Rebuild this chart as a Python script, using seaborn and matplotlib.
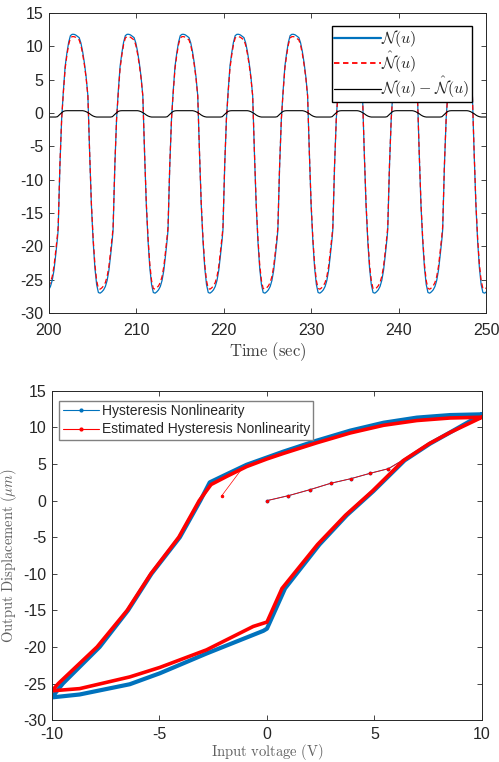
import numpy as np
import pandas as pd
import matplotlib
matplotlib.use("Agg")
import matplotlib.pyplot as plt
from matplotlib.lines import Line2D
import seaborn as sns

# ---- data: one period of the time response ----
# phase (s) after each rising zero crossing of the input
phase = [0.0, 0.2, 0.4, 0.6, 0.8, 1.0, 1.2, 1.4, 1.6, 1.8, 2.0, 2.2, 2.4, 2.6, 2.8, 3.0,
         3.2, 3.4, 3.6, 3.8, 4.0, 4.2, 4.4, 4.6, 4.8, 5.0, 5.2, 5.4, 5.6, 5.8, 6.0, 6.2]
n_true = [-17.5, -7.9, -0.8, 3.4, 7.0, 9.0, 10.6, 11.6, 11.8, 11.8, 11.7, 11.5, 11.3, 10.5,
          9.2, 7.5, 5.4, 2.6, -6.0, -13.8, -19.2, -23.2, -25.7, -26.9, -27.0, -26.8, -26.5,
          -26.0, -25.1, -23.6, -21.3, -18.8]
n_est = [-17.05, -7.7, -0.85, 3.15, 6.67, 8.65, 10.25, 11.25, 11.45, 11.45, 11.35, 11.15,
         10.95, 10.15, 8.85, 7.2, 5.2, 2.55, -5.9, -13.5, -18.75, -22.65, -25.1, -26.3,
         -26.4, -26.2, -25.9, -25.4, -24.5, -23.0, -20.7, -18.25]
first_rise = 201.06   # s
period = 6.283        # s
n_cycles = 9

# ---- data: hysteresis loop (bottom panel) ----
loop_u = [10, 8.52, 6.97, 5.42, 3.87, 2.31, 0.76, 0, -0.95, -1.88, -2.66, -3.1, -4.05, -5.37,
          -6.46, -7.78, -9.49, -10, -8.71, -6.38, -4.98, -2.81, -0.17, 0, 0.84, 2.44, 3.71,
          4.95, 6.4, 7.59, 8.5, 10]
loop_y = [11.8, 11.7, 11.35, 10.65, 9.57, 8.2, 6.7, 5.9, 4.9, 3.6, 2.5, 0, -5, -10, -15,
          -20, -25, -26.9, -26.5, -25.1, -23.6, -20.9, -17.8, -17.5, -12, -6, -2, 1.3, 5.5,
          7.8, 9.3, 11.8]
est_loop_u = [10, 8.52, 6.97, 5.42, 3.87, 2.31, 0.76, 0, -0.95, -1.88, -2.6, -3.15, -4.1,
              -5.4, -6.5, -7.9, -9.7, -10, -8.71, -6.38, -4.98, -2.81, -0.64, 0, 0.7, 2.35,
              3.65, 4.9, 6.35, 7.55, 8.5, 10]
est_loop_y = [11.4, 11.3, 10.95, 10.3, 9.25, 7.9, 6.45, 5.7, 4.65, 3.3, 2.2, 0, -5, -10,
              -15, -20, -25, -26.0, -25.7, -24.1, -22.8, -20.4, -17.2, -16.6, -12, -6, -2,
              1.3, 5.5, 7.8, 9.3, 11.4]
# initial branch from the origin
init_u = [0, 1, 2, 2.96, 3.9, 4.8, 5.65, 6.27]
init_y = [0, 0.68, 1.5, 2.37, 3.0, 3.74, 4.37, 5.46]
# start of the estimate
est_start_u = [-2.1, -1.18]
est_start_y = [0.68, 4.3]

blue = "#0072BD"
red = "#FF0000"

sns.set_theme(style="white")
plt.rcParams['font.family'] = ['Liberation Sans', 'DejaVu Sans']
plt.rcParams['mathtext.fontset'] = 'cm'
plt.rcParams['axes.unicode_minus'] = False

t = np.concatenate([first_rise + k * period + np.array(phase) for k in range(-1, n_cycles - 1)])
df = pd.DataFrame({
    "t": t,
    "n": np.tile(n_true, n_cycles),
    "nh": np.tile(n_est, n_cycles),
})
df["err"] = df["n"] - df["nh"]

fig = plt.figure(figsize=(4.99, 7.62), dpi=100)
ax1 = fig.add_axes([0.098, 0.589, 0.876, 0.394])
ax2 = fig.add_axes([0.104, 0.055, 0.862, 0.432])

#%% top panel
sns.lineplot(data=df, x="t", y="n", sort=False, estimator=None, color=blue, lw=0.9, ax=ax1)
sns.lineplot(data=df, x="t", y="nh", sort=False, estimator=None, color=red, lw=0.9,
             dashes=False, ax=ax1)
ax1.lines[-1].set_linestyle((0, (4, 2.5)))
sns.lineplot(data=df, x="t", y="err", sort=False, estimator=None, color="black", lw=0.8, ax=ax1)

ax1.set_xlim(200, 250)
ax1.set_ylim(-30, 15)
ax1.set_xticks(np.arange(200, 251, 10))
ax1.set_yticks(np.arange(-30, 16, 5))
ax1.set_xlabel(r'$\mathrm{Time\ (sec)}$', fontsize=12, color="#404040", labelpad=2)
ax1.set_ylabel("")

h_top = [Line2D([], [], color=blue, lw=1.6),
         Line2D([], [], color=red, lw=1.3, ls=(0, (3, 2))),
         Line2D([], [], color="black", lw=0.9)]
ax1.legend(h_top, [r'$\mathcal{N}(u)$', r'$\hat{\mathcal{N}}(u)$',
                   r'$\mathcal{N}(u)-\hat{\mathcal{N}}(u)$'],
           loc="upper right", bbox_to_anchor=(0.967, 0.955), fontsize=11.5, fancybox=False,
           edgecolor="black", framealpha=1, handlelength=2.9, handletextpad=0.05,
           borderpad=0.12, labelspacing=0.0, borderaxespad=0)

#%% bottom panel
sns.lineplot(x=loop_u, y=loop_y, sort=False, estimator=None, color=blue, lw=3.0, ax=ax2)
sns.lineplot(x=init_u, y=init_y, sort=False, estimator=None, color=blue, lw=0.7,
             marker=".", ms=4, mec=blue, ax=ax2)
sns.lineplot(x=est_loop_u, y=est_loop_y, sort=False, estimator=None, color=red, lw=2.6, ax=ax2)
sns.lineplot(x=init_u, y=init_y, sort=False, estimator=None, color=red, lw=0.6,
             marker=".", ms=3.5, mec=red, ax=ax2)
sns.lineplot(x=est_start_u, y=est_start_y, sort=False, estimator=None, color=red, lw=0.5,
             marker=".", ms=3.5, mec=red, markevery=[0], ax=ax2)

ax2.set_xlim(-10, 10)
ax2.set_ylim(-30, 15)
ax2.set_xticks(np.arange(-10, 11, 5))
ax2.set_yticks(np.arange(-30, 16, 5))
ax2.set_xlabel(r'$\mathrm{Input\ voltage\ (V)}$', fontsize=10.5, color="#606060", labelpad=0)
ax2.set_ylabel(r'$\mathrm{Output\ Displacement\ }(\mu m)$', fontsize=10.5, color="#606060",
               labelpad=3)

h_bot = [Line2D([], [], color=blue, lw=0.8, marker=".", ms=4),
         Line2D([], [], color=red, lw=0.8, marker=".", ms=4)]
ax2.legend(h_bot, ["Hysteresis Nonlinearity", "Estimated Hysteresis Nonlinearity"],
           loc="upper left", bbox_to_anchor=(0.017, 0.97), fontsize=10, fancybox=False,
           edgecolor="#808080", framealpha=1, handlelength=2.6, handletextpad=0.2,
           borderpad=0.25, labelspacing=0.3, borderaxespad=0, numpoints=1)

for ax in (ax1, ax2):
    for s in ax.spines.values():
        s.set_color("#262626")
        s.set_linewidth(0.7)
    ax.tick_params(direction="in", length=3.5, width=0.6, color="#262626",
                   labelsize=11.5, labelcolor="#262626", top=True, right=True,
                   bottom=True, left=True)
    ax.tick_params(axis="y", pad=4)
ax1.tick_params(axis="x", pad=7)
ax2.tick_params(axis="x", pad=5)

fig.savefig("out.png", dpi=100)
